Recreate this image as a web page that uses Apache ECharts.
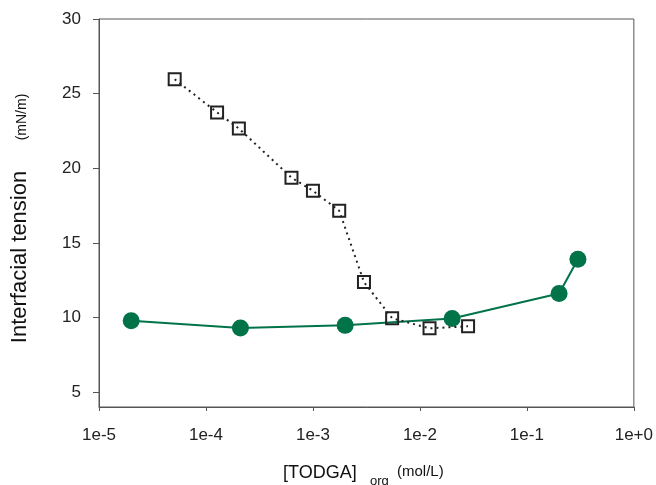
<!DOCTYPE html>
<html>
<head>
<meta charset="utf-8">
<script src="https://cdn.jsdelivr.net/npm/echarts@6/dist/echarts.min.js"></script>
<style>
html,body{margin:0;padding:0;background:#fff;}
#chart{width:656px;height:485px;}
</style>
</head>
<body>
<div id="chart"></div>
<script>
// Data
var squareX = [5.1e-5, 1.27e-4, 2.03e-4, 6.3e-4, 1.0e-3, 1.76e-3, 3.0e-3, 5.5e-3, 1.23e-2, 2.82e-2];
var squareY = [25.96, 23.74, 22.66, 19.37, 18.49, 17.15, 12.37, 9.95, 9.27, 9.41];
var circleX = [2.0e-5, 2.1e-4, 2.0e-3, 2.0e-2, 0.2, 0.3];
var circleY = [9.78, 9.29, 9.47, 9.93, 11.61, 13.9];
var xTicks = [1e-5, 1e-4, 1e-3, 1e-2, 1e-1, 1];
var yTicks = [5, 10, 15, 20, 25, 30];
var yTitle = 'Interfacial tension';
var yUnit = '(mN/m)';
var xTitle = '[TODGA]';
var xSub = 'org';
var xUnit = '(mol/L)';

function pairs(xs, ys) { return xs.map(function (x, i) { return [x, ys[i]]; }); }

var FONT = '"Liberation Sans", Arial, sans-serif';
var axisCol = '#555';

var chart = echarts.init(document.getElementById('chart'), null, {renderer: 'canvas'});
chart.setOption({
  animation: false,
  backgroundColor: '#fff',
  grid: {left: 99, top: 19, right: 18, bottom: 78, show: true, borderColor: axisCol, borderWidth: 1, backgroundColor: 'transparent'},
  xAxis: {
    type: 'log', logBase: 10, min: 1e-5, max: 1,
    axisLine: {show: true, lineStyle: {color: axisCol, width: 1}},
    axisTick: {show: true, inside: false, length: 4, lineStyle: {color: axisCol}, customValues: xTicks},
    minorTick: {show: false},
    splitLine: {show: false},
    axisLabel: {
      customValues: xTicks,
      margin: 20, color: '#222', fontSize: 17, fontFamily: FONT,
      formatter: function (v) { var e = Math.round(Math.log10(v)); return '1e' + (e >= 0 ? '+' : '') + e; }
    }
  },
  yAxis: {
    type: 'value', min: 4, max: 30,
    axisLine: {show: true, lineStyle: {color: axisCol, width: 1}},
    axisTick: {show: true, inside: false, length: 6, lineStyle: {color: axisCol}, customValues: yTicks},
    splitLine: {show: false},
    axisLabel: {customValues: yTicks, margin: 18, color: '#222', fontSize: 17, fontFamily: FONT}
  },
  graphic: [
    {type: 'text', x: 20, y: 257, rotation: Math.PI / 2,
     style: {text: yTitle, font: '22px ' + FONT, fill: '#111', textAlign: 'center', textVerticalAlign: 'middle'}},
    {type: 'text', x: 22, y: 117, rotation: Math.PI / 2,
     style: {text: yUnit, font: '14px ' + FONT, fill: '#111', textAlign: 'center', textVerticalAlign: 'middle'}},
    {type: 'text', x: 283, y: 473,
     style: {text: xTitle, font: '18px ' + FONT, fill: '#111', textAlign: 'left', textVerticalAlign: 'middle'}},
    {type: 'text', x: 370, y: 481,
     style: {text: xSub, font: '13px ' + FONT, fill: '#111', textAlign: 'left', textVerticalAlign: 'middle'}},
    {type: 'text', x: 397, y: 472,
     style: {text: xUnit, font: '15px ' + FONT, fill: '#111', textAlign: 'left', textVerticalAlign: 'middle'}}
  ],
  series: [
    {
      type: 'line', data: pairs(circleX, circleY),
      symbol: 'circle', symbolSize: 17,
      itemStyle: {color: '#007349'},
      lineStyle: {color: '#007349', width: 2},
      z: 2
    },
    {
      type: 'line', data: pairs(squareX, squareY),
      symbol: 'rect', symbolSize: 12,
      itemStyle: {color: 'rgba(255,255,255,0)', borderColor: '#222', borderWidth: 2},
      lineStyle: {color: '#222', width: 2, type: [2, 4]},
      z: 3
    }
  ]
});
</script>
</body>
</html>
